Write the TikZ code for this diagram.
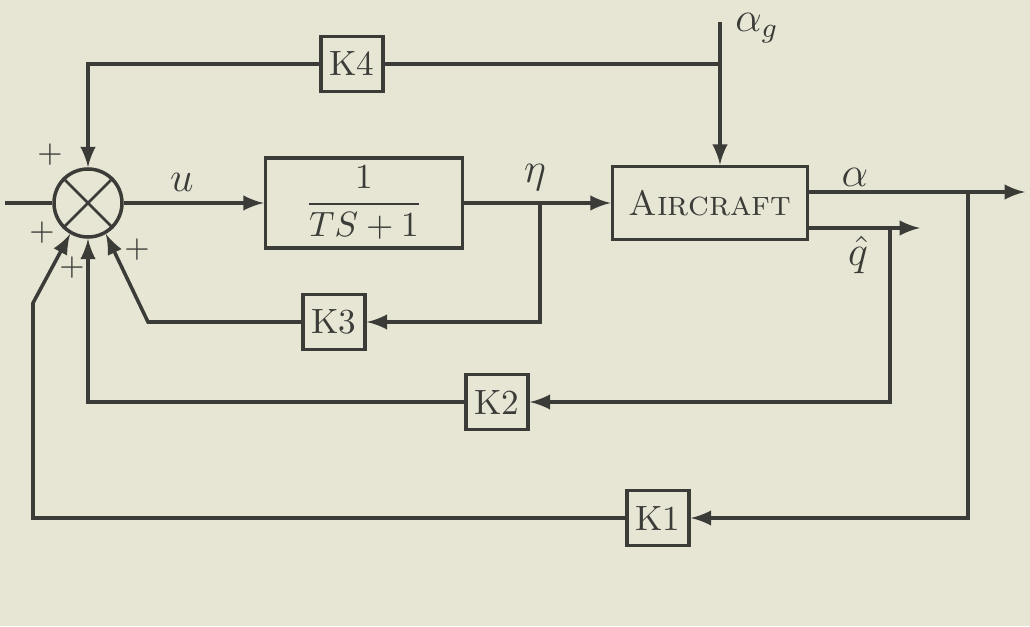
\documentclass[tikz,border=0pt]{standalone}
\usepackage{amsmath}
\definecolor{paper}{HTML}{E7E6D5}
\definecolor{ink}{HTML}{3B3B38}
\begin{document}
\begin{tikzpicture}[>=latex, color=ink, line width=1pt,
  blk/.style={draw, rectangle, minimum width=0.62cm, minimum height=0.55cm, inner sep=2pt},
  pls/.style={font=\small, inner sep=0pt},
  lbl/.style={font=\large, inner sep=1pt}]
% Paper
\fill[paper] (0,0) rectangle (10.30,6.26);
% Forward path
\node[circle, draw, minimum size=0.68cm, inner sep=0pt] (sum) at (0.88,4.23) {};
\draw[line width=0.8pt] (sum.45) -- (sum.225) (sum.135) -- (sum.-45);
\node[blk, minimum width=1.97cm, minimum height=0.9cm] (lag) at (3.64,4.23) {$\dfrac{1}{TS+1}$};
\node[blk, minimum width=1.95cm, minimum height=0.73cm] (ac) at (7.10,4.23) {\textsc{Aircraft}};
\coordinate (in) at (0.05,4.23);
\draw (in) -- (sum.west);
\draw[->] (sum.east) -- (lag.west);
\draw[->] (lag.east) -- (ac.west);
% Outputs
\coordinate (aj) at (9.68,4.34);
\coordinate (aout) at (10.25,4.34);
\coordinate (qj) at (8.90,3.98);
\coordinate (qout) at (9.20,3.98);
\coordinate (etaj) at (5.40,4.23);
\draw[->] (ac.east |- aj) -- (aout);
\draw[->] (ac.east |- qj) -- (qout);
% Gains
\node[blk] (K4) at (3.52,5.62) {K4};
\node[blk] (K3) at (3.34,3.04) {K3};
\node[blk] (K2) at (4.97,2.24) {K2};
\node[blk] (K1) at (6.58,1.08) {K1};
% Gust input
\coordinate (gust) at (7.20,6.04);
\coordinate (gj) at (7.20,5.62);
\draw[->] (gust) -- (gust |- ac.north);
\draw (gj) -- (K4.east);
\draw[->] (K4.west) -| (sum.north);
% Feedback
\coordinate (k3b) at (1.48,3.04);
\coordinate (k1a) at (0.33,1.08);
\coordinate (k1b) at (0.33,3.23);
\draw[->] (etaj) |- (K3.east);
\draw[->] (qj) |- (K2.east);
\draw[->] (aj) |- (K1.east);
\draw[->] (K3.west) -- (k3b) -- (sum.-60);
\draw[->] (K2.west) -| (sum.south);
\draw[->] (K1.west) -- (k1a) -- (k1b) -- (sum.-120);
% Signs
\node[pls] (p1) at (0.50,4.71) {$+$};
\node[pls] (p2) at (0.42,3.93) {$+$};
\node[pls] (p3) at (0.72,3.58) {$+$};
\node[pls] (p4) at (1.37,3.76) {$+$};
% Signals
\node[lbl] (lu) at (1.82,4.44) {$u$};
\node[lbl] (leta) at (5.35,4.48) {$\eta$};
\node[lbl] (la) at (8.55,4.49) {$\alpha$};
\node[lbl] (lq) at (8.58,3.71) {$\hat{q}$};
\node[lbl, anchor=north west] (lg) at (7.30,6.18) {$\alpha_g$};
\end{tikzpicture}
\end{document}
